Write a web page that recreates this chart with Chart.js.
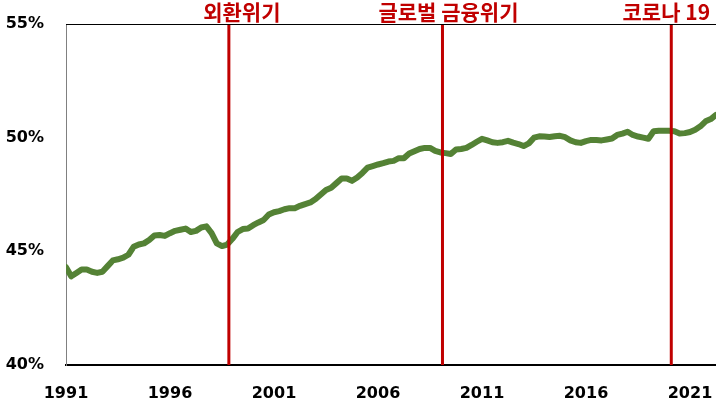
<!DOCTYPE html>
<html>
<head>
<meta charset="utf-8">
<script src="https://cdn.jsdelivr.net/npm/chart.js@4/dist/chart.umd.min.js"></script>
<style>
html,body{margin:0;padding:0;background:#fff;}
#wrap{width:716px;height:404px;position:relative;}
</style>
</head>
<body>
<div id="wrap"><canvas id="c"></canvas></div>
<script>
// quarterly share, 1991Q1 ~ 2022Q2 (%)
const START_YEAR = 1991;
const SHARE = [
  44.3, 43.9, 44.05, 44.2, 44.2, 44.1, 44.05, 44.1, 44.35, 44.6,
  44.65, 44.72, 44.85, 45.2, 45.3, 45.35, 45.5, 45.7, 45.72, 45.68,
  45.8, 45.9, 45.95, 46.0, 45.85, 45.9, 46.05, 46.1, 45.8, 45.35,
  45.23, 45.3, 45.55, 45.85, 45.98, 46.0, 46.15, 46.27, 46.38, 46.62,
  46.72, 46.77, 46.85, 46.9, 46.9, 47.0, 47.08, 47.15, 47.3, 47.5,
  47.7, 47.8, 48.0, 48.2, 48.2, 48.1, 48.25, 48.45, 48.68, 48.75,
  48.82, 48.88, 48.95, 48.98, 49.1, 49.1, 49.3, 49.4, 49.5, 49.55,
  49.55, 49.42, 49.35, 49.32, 49.28, 49.48, 49.5, 49.55, 49.68, 49.82,
  49.95, 49.88, 49.8, 49.77, 49.8, 49.86, 49.78, 49.72, 49.63, 49.75,
  50.0, 50.06, 50.05, 50.03, 50.06, 50.08, 50.02, 49.88, 49.8, 49.77,
  49.85, 49.9, 49.9, 49.88, 49.92, 49.96, 50.12, 50.18, 50.26, 50.12,
  50.05, 50.0, 49.95, 50.28, 50.3, 50.3, 50.3, 50.28, 50.18, 50.2,
  50.25, 50.35, 50.5, 50.72, 50.82, 51.0
];
const X_TICKS = [1991, 1996, 2001, 2006, 2011, 2016, 2021];
const Y_TICKS = [40, 45, 50, 55];
const CRISIS_NAMES = ['외환위기', '글로벌 금융위기', '코로나 19'];
const CRISIS_AT = [1998.83, 2009.1, 2020.1];

const shareData = SHARE.map((v,i)=>({x: START_YEAR + i/4, y: v}));
const crisisSets = CRISIS_AT.map((x,i)=>({
  label: CRISIS_NAMES[i],
  data: [{x:x, y:Y_TICKS[0]}, {x:x, y:Y_TICKS[Y_TICKS.length-1]}],
  borderColor: '#c00000', borderWidth: 3, pointRadius: 0, order: 0
}));

const RED = '#c00000';
const labelOffsets = [13, 6, -5];

const crisisLabels = {
  id: 'crisisLabels',
  afterDraw(chart) {
    const ctx = chart.ctx, xs = chart.scales.x, a = chart.chartArea;
    ctx.save();
    // top frame line
    ctx.strokeStyle = '#000'; ctx.lineWidth = 1;
    ctx.beginPath(); ctx.moveTo(a.left, a.top + 0.5); ctx.lineTo(a.right, a.top + 0.5); ctx.stroke();
    ctx.fillStyle = RED;
    ctx.font = 'bold 21px "Noto Sans CJK KR", sans-serif';
    ctx.textAlign = 'center'; ctx.textBaseline = 'middle';
    CRISIS_AT.forEach((x,i)=>{
      ctx.fillText(CRISIS_NAMES[i], xs.getPixelForValue(x) + labelOffsets[i], 12.5);
    });
    ctx.restore();
  }
};

const tickFont = {family: '"DejaVu Sans", sans-serif', size: 16, weight: 'bold'};

new Chart(document.getElementById('c'), {
  type: 'line',
  data: {
    datasets: [
      ...crisisSets,
      {label: '비중', data: shareData, borderColor: '#548235', borderWidth: 6,
       pointRadius: 0, tension: 0, borderJoinStyle: 'round', borderCapStyle: 'round', order: 1}
    ]
  },
  options: {
    responsive: true, maintainAspectRatio: false, animation: false,
    layout: {padding: {top: 24, right: 0, left: 0, bottom: 0}},
    plugins: {legend: {display: false}, tooltip: {enabled: false}},
    scales: {
      x: {
        type: 'linear', min: START_YEAR, max: START_YEAR + (SHARE.length-1)/4,
        afterBuildTicks: s => { s.ticks = X_TICKS.map(v=>({value:v})); },
        afterFit: s => { s.height = 39; },
        grid: {display: true, drawOnChartArea: false, drawTicks: true, tickLength: 17, tickColor: 'rgba(0,0,0,0)'},
        border: {color: '#000', width: 2},
        ticks: {autoSkip: false, maxRotation: 0, padding: 2, color: '#000', font: tickFont,
                callback: v => String(v)}
      },
      y: {
        min: Y_TICKS[0], max: Y_TICKS[Y_TICKS.length-1],
        afterBuildTicks: s => { s.ticks = Y_TICKS.map(v=>({value:v})); },
        afterFit: s => { s.width = 66; },
        grid: {display: true, drawOnChartArea: false, drawTicks: true, tickLength: 20, tickColor: 'rgba(0,0,0,0)'},
        border: {color: '#808080', width: 1},
        ticks: {padding: 2, color: '#000', font: tickFont, callback: v => v + '%'}
      }
    }
  },
  plugins: [crisisLabels]
});
</script>
</body>
</html>
